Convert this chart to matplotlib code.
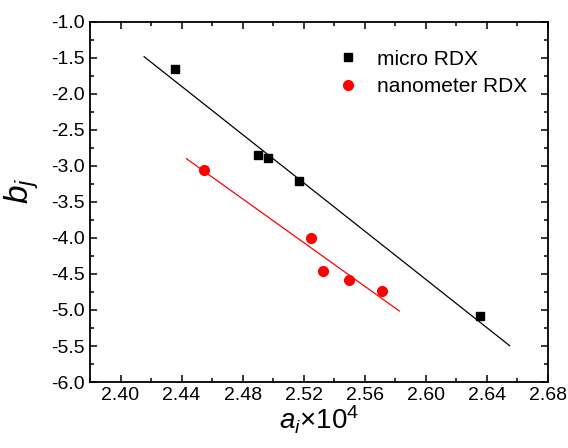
import numpy as np
import matplotlib
matplotlib.use("Agg")
import matplotlib.pyplot as plt
from matplotlib.ticker import MultipleLocator

plt.rcParams['font.family'] = ['Liberation Sans', 'DejaVu Sans']
plt.rcParams['mathtext.fontset'] = 'custom'
plt.rcParams['mathtext.rm'] = 'Liberation Sans'
plt.rcParams['mathtext.it'] = 'Liberation Sans:italic'

# data
micro_a = [2.4357, 2.4900, 2.4966, 2.5169, 2.6354]
micro_b = [-1.653, -2.847, -2.889, -3.208, -5.088]
nano_a = [2.4549, 2.5247, 2.5326, 2.5498, 2.5710]
nano_b = [-3.056, -4.000, -4.458, -4.588, -4.736]

# fitted lines (end points)
micro_fit_a = [2.4154, 2.6549]
micro_fit_b = [-1.482, -5.496]
nano_fit_a = [2.4431, 2.5826]
nano_fit_b = [-2.898, -5.014]

fig = plt.figure(figsize=(5.68, 4.48), dpi=100)
ax = fig.add_axes([0.1585, 0.1473, 0.8063, 0.8037])

ax.plot(micro_fit_a, micro_fit_b, color='black', lw=0.9)
ax.plot(nano_fit_a, nano_fit_b, color='red', lw=0.9)
ax.plot(micro_a, micro_b, 's', color='black', ms=6, label='micro RDX')
ax.plot(nano_a, nano_b, 'o', color='red', ms=7, label='nanometer RDX')

ax.set_xlim(2.38, 2.68)
ax.set_ylim(-6.0, -1.0)
xt = np.arange(2.40, 2.681, 0.04)
yt = np.arange(-6.0, -0.99, 0.5)
ax.set_xticks(xt)
ax.set_xticklabels(['%.2f' % v for v in xt])
ax.set_yticks(yt)
ax.set_yticklabels(['%.1f' % v for v in yt])
ax.xaxis.set_minor_locator(MultipleLocator(0.02))
ax.yaxis.set_minor_locator(MultipleLocator(0.25))

ax.tick_params(which='both', direction='in', top=True, right=True, labelsize=14)
ax.tick_params(which='major', length=5, width=1.1)
ax.tick_params(which='minor', length=3, width=1.1)
for s in ax.spines.values():
    s.set_linewidth(1.3)

ax.set_xlabel(r'$a_i$×10$^4$', fontsize=20, labelpad=0)
ax.set_ylabel(r'$b_j$', fontsize=24, labelpad=0)
ax.yaxis.set_label_coords(-0.108, 0.53)

ax.legend(loc='upper right', bbox_to_anchor=(0.995, 0.975), frameon=False,
          fontsize=15, handletextpad=0.8, labelspacing=0.4, handlelength=1.2)

fig.savefig('out.png', dpi=100)
